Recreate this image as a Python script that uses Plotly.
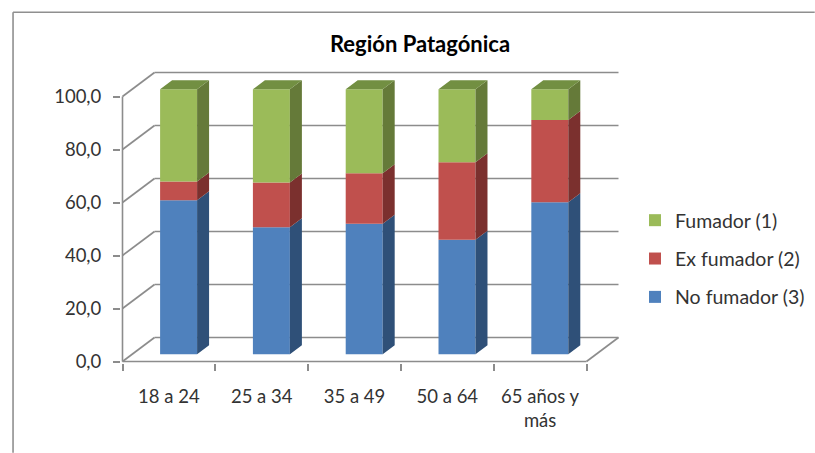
import plotly.graph_objects as go

categories = ["18 a 24", "25 a 34", "35 a 49", "50 a 64", "65 años y<br>más"]
no_fumador = [58.1, 47.9, 49.3, 43.2, 57.4]
ex_fumador = [7.1, 16.9, 19.0, 29.3, 31.0]
fumador = [34.8, 35.2, 31.7, 27.5, 11.6]
y_ticks = [0, 20, 40, 60, 80, 100]

W, H = 815, 453
PX_X = 92.84
PX_Y = 2.65
DEPTH_X = 32 / PX_X
DEPTH_Y = 24 / PX_Y
FRONT_X = 9.7 / PX_X
FRONT_Y = 7.2 / PX_Y
BAR_W = 37 / PX_X
BAR_DX = 12 / PX_X
BAR_DY = 9 / PX_Y
PAD_X = 1.5 / PX_X
PAD_Y = 1.5 / PX_Y
n = len(categories)
GRID = "#8c8c8c"
FONT = "Lato"
TEXT = "#333333"

series = [
    ("No fumador (3)", no_fumador, "#4F81BD", "#2F5078", "#3D6594", 3),
    ("Ex fumador (2)", ex_fumador, "#C0504D", "#7B302E", "#96403D", 2),
    ("Fumador (1)", fumador, "#9BBB59", "#657A39", "#728F42", 1),
]

fig = go.Figure()
centers = [i + 0.5 for i in range(n)]
cum = [0.0] * n
for name, vals, col, side, top, rank in series:
    fig.add_trace(go.Bar(
        x=[c + FRONT_X for c in centers], y=vals,
        base=[b + FRONT_Y for b in cum], width=BAR_W,
        name=name, legendgroup=name, legendrank=rank, marker=dict(color=col, line=dict(width=0)),
        hoverinfo="name+y",
    ))
    sx, sy = [], []
    for c, b, v in zip(centers, cum, vals):
        xr = c + FRONT_X + BAR_W / 2
        y0, y1 = b + FRONT_Y, b + v + FRONT_Y
        sx += [xr, xr + BAR_DX, xr + BAR_DX, xr, xr, None]
        sy += [y0, y0 + BAR_DY, y1 + BAR_DY, y1, y0, None]
    fig.add_trace(go.Scatter(x=sx, y=sy, mode="lines", fill="toself", fillcolor=side,
                             line=dict(width=0, color=side), showlegend=False, hoverinfo="skip"))
    cum = [b + v for b, v in zip(cum, vals)]
    if name.startswith("Fumador"):
        tx, ty = [], []
        for c, b in zip(centers, cum):
            xl = c + FRONT_X - BAR_W / 2
            xr = xl + BAR_W
            y0 = b + FRONT_Y
            tx += [xl, xr, xr + BAR_DX, xl + BAR_DX, xl, None]
            ty += [y0, y0, y0 + BAR_DY, y0 + BAR_DY, y0, None]
        fig.add_trace(go.Scatter(x=tx, y=ty, mode="lines", fill="toself", fillcolor=top,
                                 line=dict(width=0, color=top), showlegend=False, hoverinfo="skip"))

x_total = n + DEPTH_X
y_total = y_ticks[-1] + DEPTH_Y
ml = 122.5 - 1.5
mb = H - 361.7 - 1.5
mr = W - (122.5 + x_total * PX_X) - 1.5
mt = 361.7 - y_total * PX_Y - 1.5

shapes = []
def seg(x0, y0, x1, y1):
    shapes.append(dict(type="line", x0=x0, y0=y0, x1=x1, y1=y1, xref="x", yref="y", layer="below",
                       line=dict(color=GRID, width=1.6)))
for v in y_ticks:
    seg(0, v, DEPTH_X, v + DEPTH_Y)
    seg(DEPTH_X, v + DEPTH_Y, n + DEPTH_X, v + DEPTH_Y)
seg(0, 0, 0, y_ticks[-1])
seg(0, 0, n, 0)
seg(n, 0, n + DEPTH_X, DEPTH_Y)
# outer frame of the chart
pw, ph = W - ml - mr, H - mt - mb
for x0, y0, x1, y1 in [(13, 12.5, W, 12.5), (13, 12.5, 13, H)]:
    shapes.append(dict(type="line", xref="paper", yref="paper", layer="below",
                       x0=(x0 - ml) / pw, x1=(x1 - ml) / pw,
                       y0=(H - mb - y0) / ph, y1=(H - mb - y1) / ph,
                       line=dict(color="#8f8f8f", width=1.6)))

fig.update_layout(
    width=W, height=H, autosize=False,
    margin=dict(l=ml, r=mr, t=mt, b=mb, pad=0),
    paper_bgcolor="white", plot_bgcolor="white",
    barmode="overlay", separators=", ",
    font=dict(family=FONT, color=TEXT, size=18),
    title=dict(text="<b>Región Patagónica</b>", font=dict(family=FONT, size=22, color="#000000"),
               x=420 / W, xanchor="center", xref="container",
               y=1 - 44 / H, yanchor="middle", yref="container"),
    legend=dict(xref="container", yref="container", x=635 / W, xanchor="left",
                y=1 - 201 / H, yanchor="top", traceorder="grouped", tracegroupgap=10,
                font=dict(family=FONT, size=19.5, color=TEXT), bgcolor="rgba(0,0,0,0)", itemwidth=30),
    shapes=shapes,
    xaxis=dict(range=[-PAD_X, x_total + PAD_X], tickmode="array", tickvals=centers, ticktext=categories,
               ticks="", showgrid=False, zeroline=False, showline=False, ticklabelstandoff=20,
               tickfont=dict(family=FONT, size=18.5, color=TEXT),
               minor=dict(tickmode="array", tickvals=list(range(n + 1)), ticks="outside", ticklen=7,
                          tickwidth=1.6, tickcolor=GRID, showgrid=False)),
    yaxis=dict(range=[-PAD_Y, y_total + PAD_Y], tickmode="array", tickvals=y_ticks, tickformat=".1f",
               ticks="outside", ticklen=7, tickwidth=1.6, tickcolor=GRID, showgrid=False, zeroline=False,
               showline=False, ticklabelstandoff=8, tickfont=dict(family=FONT, size=18.5, color=TEXT)),
)
fig.write_html("out.html", post_script="document.body.style.margin='0';",
               config={"displayModeBar": False})
